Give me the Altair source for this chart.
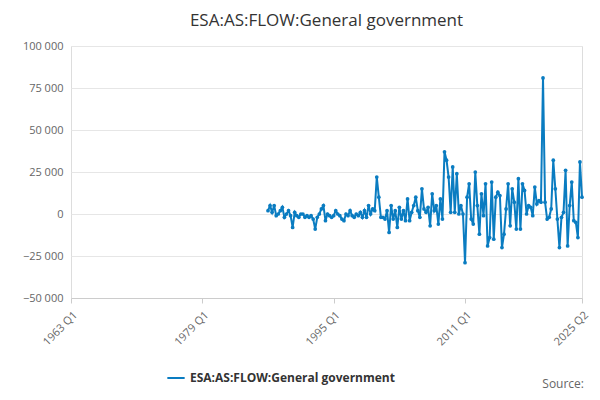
import pandas as pd
import altair as alt

series_name = "ESA:AS:FLOW:General government"
start_year = 1987
values = [
    2000, 5000, 1000, 5000, -1000, 0, 2000, 4000, -2000, 0, 2000, -1000, -8000, 1000, -1000, -2000,
    0, 0, -2000, -1000, -2000, -1000, -3000, -9000, -2000, 0, 3000, 5000, -4000, 0, -1000, -2000,
    -1000, 2000, 0, -1000, -3000, -4000, 0, -1000, 2000, -1000, -2000, 0, -1000, 1000, -2000, 2000,
    -2000, 5000, 0, 3000, 2000, 22000,
    10000, -2000, -2000, -3000, 2000, -11000, 5000, -3000, 2000, -8000, 4000, -3000, 2000, -4000, 9000, -4000,
    1000, 5000, 10000, 2000, -2000, 15000, 3000, 1000, 4000, -7000, 12000, 2000, 5000, -6000, 9000, -3000,
    37000, 32000, 22000, 1000, 28000, 1000, 24000, 0, 5000, 0,
    -29000, 10000, 18000, -3000, -6000, 25000, 5000, -12000, 12000, -1000, 18000, -19000, -14000, 19000,
    -15000, 10000, 13000, 11000, -20000, -12000, 3000, 18000, -7000, 15000, 7000, -9000, 21000, -9000,
    18000, 14000, 0, 5000, 4000, -1000, 16000, 6000, 8000,
    7000, 81000, 7000, -3000, -2000, 3000,
    32000, 15000, -3000, -20000, -2000, 1000, 26000, -19000, 5000, 19000, -4000, -5000, -14000, 31000, 10000,
]
x_ticks = [1963, 1979, 1995, 2011, 2025.25]
y_ticks = [-50000, -25000, 0, 25000, 50000, 75000, 100000]

df = pd.DataFrame({
    "t": [start_year + i / 4 for i in range(len(values))],
    "value": values,
    "series": series_name,
})

blue = "#0a7cc1"

line = alt.Chart(df).mark_line(
    point=alt.OverlayMarkDef(size=14, filled=True), strokeWidth=2
).encode(
    x=alt.X("t:Q", title=None, scale=alt.Scale(domain=[1963, 2025.25], nice=False),
            axis=alt.Axis(values=x_ticks, grid=False, labelAngle=-45, labelAlign="right",
                          labelExpr="datum.value == 2025.25 ? '2025 Q2' : floor(datum.value) + ' Q1'",
                          labelFontSize=11, labelColor="#666", tickColor="#ccc", domainColor="#ccc",
                          labelPadding=6)),
    y=alt.Y("value:Q", title=None, scale=alt.Scale(domain=[-50000, 100000], nice=False),
            axis=alt.Axis(values=y_ticks, labelExpr="replace(format(datum.value, ','), /,/g, ' ')",
                          domain=False, ticks=False, labelFontSize=11, labelColor="#666",
                          gridColor="#e6e6e6", labelPadding=8)),
    color=alt.Color("series:N", scale=alt.Scale(range=[blue]),
                    legend=alt.Legend(title=None, orient="none", legendX=95, legendY=322,
                                      labelFontSize=12, labelLimit=0,
                                      labelFontWeight="bold", labelColor="#333",
                                      symbolType="stroke", symbolSize=300, symbolStrokeWidth=2)),
)

source = alt.Chart(pd.DataFrame({"s": ["Source:"]})).mark_text(
    align="right", baseline="middle", fontSize=12, color="#666"
).encode(text="s:N", x=alt.value(513), y=alt.value(338))

chart = (line + source).properties(
    width=511, height=252,
    autosize=alt.AutoSizeParams(type="none"),
    padding={"left": 63, "top": 38, "right": 10, "bottom": 94},
    title=alt.Title(series_name, fontSize=17, fontWeight="normal", color="#333", offset=10),
).configure_view(stroke=None).configure(font="Open Sans")

chart.save("out.html", embed_options={"renderer": "svg", "actions": False})
